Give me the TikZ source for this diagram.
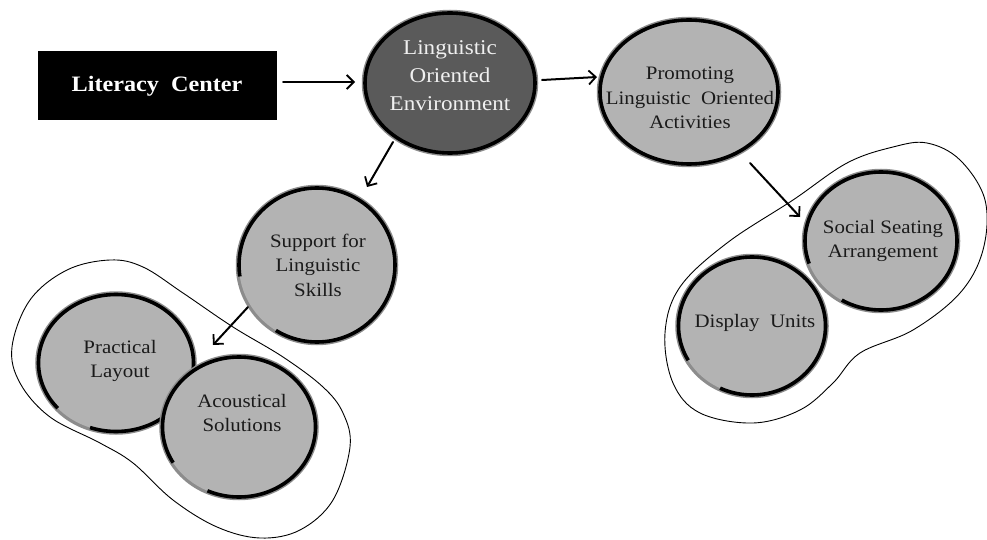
\documentclass[tikz,border=0pt]{standalone}
\usepackage{fontspec}
\setmainfont{Liberation Serif}[FakeStretch=1.1]
\usetikzlibrary{arrows.meta,shapes.geometric}
\definecolor{darkfill}{HTML}{5A5A5A}
\definecolor{lightfill}{HTML}{B3B3B3}
\definecolor{ink}{HTML}{1A1A1A}
\definecolor{rim}{HTML}{8C8C8C}

\begin{document}
\begin{tikzpicture}[x=1pt,y=-1pt,
  % hand-drawn looking circles: grey rim under a heavy black outline
  ring/.style={ellipse, draw=black, line width=3.6pt, inner sep=0pt, outer sep=0pt,
    preaction={draw=rim, line width=6.5pt, solid}},
  darkring/.style={ring, fill=darkfill},
  lightring/.style={ring, fill=lightfill},
  gap/.style 2 args={dash pattern=on #1pt off #2pt on 600pt},
  lighttext/.style={align=center, text=ink, font=\fontsize{19}{24.5}\selectfont},
  darktext/.style={align=center, text=white!94!black, font=\fontsize{21}{28}\selectfont},
  litbox/.style={fill=black, draw=black, line width=1pt, minimum width=238pt,
    minimum height=68pt, text=white, font=\bfseries\fontsize{22}{26}\selectfont},
  arr/.style={draw=black, line width=2pt, line cap=round,
    -{Straight Barb[length=7pt,width=14pt,line width=1.8pt]}},
  group/.style={draw=black, line width=0.9pt}
]
\useasboundingbox (0,0) rectangle (987,540);

% group outlines
\draw[group] plot[smooth cycle, tension=0.6] coordinates {
  (110,260) (67,270) (30,300) (12,347) (20,383) (50,417) (100,443) (133,463)
  (173,500) (217,527) (260,538) (300,530) (333,500) (350,447) (343,413)
  (323,387) (283,357) (233,327) (183,293) (143,267)};
\draw[group] plot[smooth cycle, tension=0.6] coordinates {
  (665,333) (680,287) (727,243) (793,200) (847,163) (893,147) (927,143)
  (960,160) (985,200) (983,250) (960,293) (913,330) (860,353) (833,383)
  (800,410) (753,423) (700,413) (673,383)};

% start box
\node[litbox] (lit) at (157,86) {Literacy\ \ Center};

% circles
\node[darkring, minimum width=170pt, minimum height=140pt] (loe) at (450,83) {};
\node[lightring, minimum width=178pt, minimum height=144pt] (prom) at (689,92) {};
\node[lightring, gap={255}{67}, minimum width=156pt, minimum height=154pt] (sup) at (317,265) {};
\node[lightring, gap={280}{38}, minimum width=155pt, minimum height=137pt] (prac) at (116,363) {};
\node[lightring, gap={268}{45}, minimum width=153pt, minimum height=140pt] (aco) at (239,427) {};
\node[lightring, gap={251}{50}, minimum width=152pt, minimum height=138pt] (soc) at (881,241) {};
\node[lightring, gap={260}{43}, minimum width=147pt, minimum height=138pt] (disp) at (752,326) {};

% labels
\node[darktext] (loe-t) at (450,76) {Linguistic\\Oriented\\Environment};
\node[lighttext] (prom-t) at (690,98) {Promoting\\Linguistic\ \ Oriented\\Activities};
\node[lighttext] (sup-t) at (318,265) {Support for\\Linguistic\\Skills};
\node[lighttext] (prac-t) at (120,361) {Practical\\Layout};
\node[lighttext] (aco-t) at (242,413) {Acoustical\\Solutions};
\node[lighttext] (soc-t) at (883,241) {Social Seating\\Arrangement};
\node[lighttext] (disp-t) at (755,323) {Display\ \ Units};

% connectors
\draw[arr] ([shift={(126,-4)}]lit.center) -- ([shift={(-95,-1)}]loe.center);
\draw[arr] ([shift={(92,-3)}]loe.center) -- ([shift={(-92,-15)}]prom.center);
\draw[arr] ([shift={(-57,59)}]loe.center) -- ([shift={(50,-78)}]sup.center);
\draw[arr] ([shift={(-69,42)}]sup.center) -- ([shift={(-26,-82)}]aco.center);
\draw[arr] ([shift={(61,71)}]prom.center) -- ([shift={(-81,-24)}]soc.center);
\end{tikzpicture}
\end{document}
